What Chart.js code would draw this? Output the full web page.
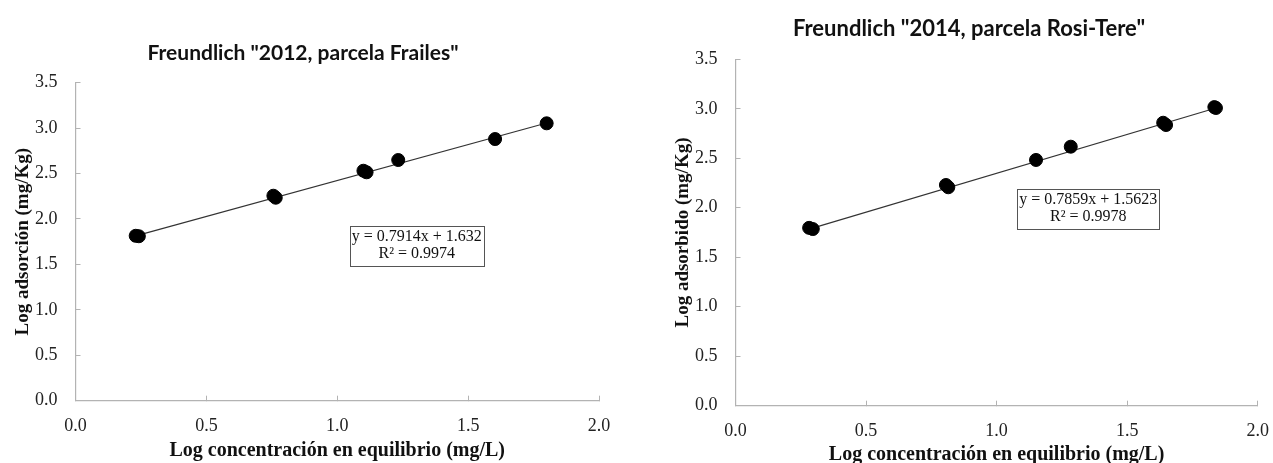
<!DOCTYPE html>
<html lang="es">
<head>
<meta charset="utf-8">
<title>Isotermas de Freundlich</title>
<script src="https://cdn.jsdelivr.net/npm/chart.js@4.4.1/dist/chart.umd.min.js"></script>
<style>
  html, body { margin: 0; padding: 0; background: #fff; overflow: hidden; }
  #page { position: relative; width: 1273px; height: 463px; overflow: hidden; }
  .panel { position: absolute; top: 0; }
  #panel2012 { left: 0; }
  #panel2014 { left: 620px; }
</style>
</head>
<body>
<div id="page">
  <div class="panel" id="panel2012"><canvas id="chart2012" width="620" height="475"></canvas></div>
  <div class="panel" id="panel2014"><canvas id="chart2014" width="653" height="475"></canvas></div>
</div>
<script>
// 2012, parcela Frailes: log Ce (mg/L) vs log qe (mg/Kg), replicates included
const frailesLogCe = [0.230, 0.242, 0.756, 0.765, 1.100, 1.112, 1.233, 1.603, 1.800];
const frailesLogQe = [1.815, 1.810, 2.256, 2.234, 2.531, 2.514, 2.649, 2.880, 3.053];
const frailesSlope = 0.7914;
const frailesIntercept = 1.632;
const frailesR2 = 0.9974;

// 2014, parcela Rosi-Tere
const rosiTereLogCe = [0.282, 0.296, 0.806, 0.815, 1.151, 1.284, 1.638, 1.649, 1.834, 1.840];
const rosiTereLogQe = [1.797, 1.785, 2.230, 2.207, 2.483, 2.617, 2.859, 2.836, 3.017, 3.008];
const rosiTereSlope = 0.7859;
const rosiTereIntercept = 1.5623;
const rosiTereR2 = 0.9978;

// axis ticks
const xTicks = [0, 0.5, 1.0, 1.5, 2.0];
const yTicks = [0, 0.5, 1.0, 1.5, 2.0, 2.5, 3.0, 3.5];

const serif = '"Liberation Serif", "Times New Roman", serif';
const axisGray = '#b3b3b3';

// heading + trendline equation box
const notesPlugin = {
  id: 'freundlichNotes',
  afterDatasetsDraw(chart, args, opts) {
    const { ctx, scales: { x, y } } = chart;
    ctx.save();
    ctx.fillStyle = '#111';
    ctx.textAlign = 'center';
    ctx.textBaseline = 'middle';
    ctx.font = 'bold ' + opts.headingSize + 'px Lato, "Open Sans", sans-serif';
    ctx.fillText(opts.heading, opts.headingX, opts.headingY);

    ctx.font = '16px ' + serif;
    const w = Math.round(Math.max(...opts.lines.map(l => ctx.measureText(l).width)) + 4);
    const h = 40;
    const cx = x.getPixelForValue(opts.boxAt[0]);
    const cy = y.getPixelForValue(opts.boxAt[1]);
    const bx = Math.round(cx - w / 2) + 0.5, by = Math.round(cy - h / 2) + 0.5;
    ctx.fillStyle = '#fff';
    ctx.fillRect(bx, by, w, h);
    ctx.strokeStyle = '#555';
    ctx.lineWidth = 1;
    ctx.strokeRect(bx, by, w, h);
    ctx.fillStyle = '#111';
    ctx.fillText(opts.lines[0], cx, cy - 8.5);
    ctx.fillText(opts.lines[1], cx, cy + 8.5);
    ctx.restore();
  }
};

function makeChart(id, s, lay) {
  const points = s.logCe.map((v, i) => ({ x: v, y: s.logQe[i] }));
  const x0 = Math.min(...s.logCe), x1 = Math.max(...s.logCe);
  const fit = [x0, x1].map(v => ({ x: v, y: s.slope * v + s.intercept }));

  const axis = (title, ticks, min, max, tickPad, titleSize, titlePad) => ({
    type: 'linear',
    min, max,
    afterBuildTicks: sc => { sc.ticks = ticks.map(v => ({ value: v })); },
    ticks: {
      padding: tickPad,
      color: '#222',
      font: { family: serif, size: 18 },
      callback: v => Number(v).toFixed(1)
    },
    grid: { drawOnChartArea: false, tickLength: -5, color: axisGray },
    border: { display: true, color: axisGray, width: 1.2 },
    title: {
      display: true,
      text: title,
      color: '#111',
      font: { family: serif, size: titleSize, weight: 'bold' },
      padding: titlePad
    }
  });

  const xAxis = axis('Log concentración en equilibrio (mg/L)', xTicks, 0, 2, 20, 20,
    { top: 0, bottom: lay.xTitlePad });
  // fixed band under the plot, no extra room for the end labels
  xAxis.afterFit = sc => { sc.height = lay.xHeight; sc.paddingLeft = 0; sc.paddingRight = 0; };
  const yAxis = axis(s.yTitle, yTicks, 0, 3.5, 23, 19, { top: lay.yTitlePad, bottom: 0 });
  yAxis.afterFit = sc => { sc.width = lay.yWidth; sc.paddingTop = 0; sc.paddingBottom = 0; };

  return new Chart(document.getElementById(id), {
    type: 'scatter',
    data: {
      datasets: [
        {
          data: points,
          order: 0,
          backgroundColor: '#000',
          borderColor: '#000',
          pointRadius: 6.5,
          pointHoverRadius: 6.5
        },
        {
          type: 'line',
          data: fit,
          order: 1,
          borderColor: '#333',
          borderWidth: 1.2,
          pointRadius: 0,
          fill: false
        }
      ]
    },
    options: {
      responsive: false,
      animation: false,
      layout: { padding: { left: 0, top: lay.top, right: lay.right, bottom: 0 } },
      scales: { x: xAxis, y: yAxis },
      plugins: {
        legend: { display: false },
        tooltip: { enabled: false },
        freundlichNotes: {
          heading: s.heading,
          headingSize: lay.headingSize,
          headingX: lay.headingX,
          headingY: lay.headingY,
          boxAt: lay.boxAt,
          lines: ['y = ' + s.slope + 'x + ' + s.intercept, 'R\u00B2 = ' + s.r2]
        }
      }
    },
    plugins: [notesPlugin]
  });
}

makeChart('chart2012', {
  heading: 'Freundlich "2012, parcela Frailes"',
  yTitle: 'Log adsorción (mg/Kg)',
  logCe: frailesLogCe, logQe: frailesLogQe,
  slope: frailesSlope, intercept: frailesIntercept, r2: frailesR2
}, {
  top: 82.7, right: 21, yWidth: 75.5, xHeight: 74.3,
  yTitlePad: 12, xTitlePad: 12,
  headingSize: 21, headingX: 303, headingY: 53, boxAt: [1.304, 1.708]
});

makeChart('chart2014', {
  heading: 'Freundlich "2014, parcela Rosi-Tere"',
  yTitle: 'Log adsorbido (mg/Kg)',
  logCe: rosiTereLogCe, logQe: rosiTereLogQe,
  slope: rosiTereSlope, intercept: rosiTereIntercept, r2: rosiTereR2
}, {
  top: 59.3, right: 15.3, yWidth: 115.5, xHeight: 69.3,
  yTitlePad: 51.5, xTitlePad: 8,
  headingSize: 22, headingX: 349, headingY: 28.5, boxAt: [1.351, 1.99]
});
</script>
</body>
</html>
